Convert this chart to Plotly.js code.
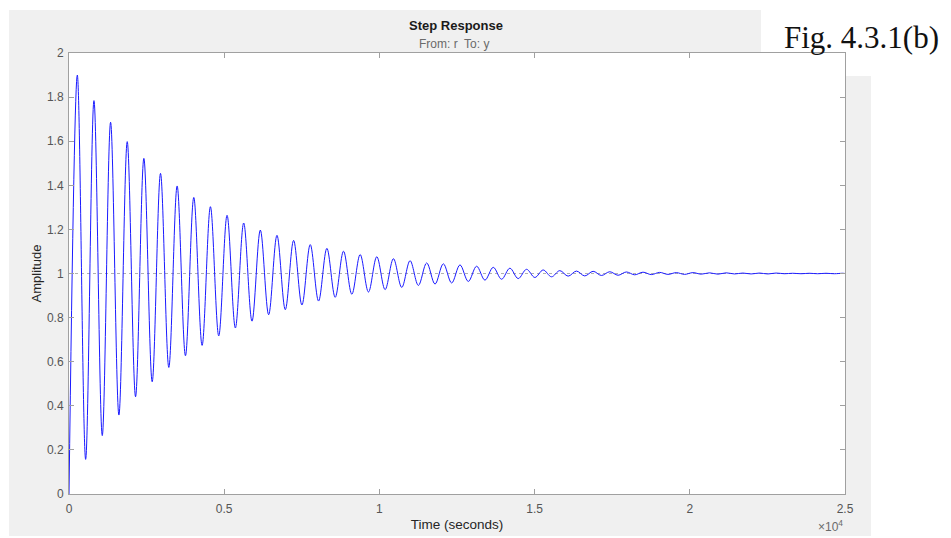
<!DOCTYPE html>
<html>
<head>
<meta charset="utf-8">
<script src="https://cdn.plot.ly/plotly-3.0.1.min.js"></script>
<style>html,body{margin:0;padding:0;background:#fff;}#chart{width:951px;height:538px;}</style>
</head>
<body>
<div id="chart"></div>
<script>
// Times (s) of the response's start, successive peaks/troughs, and end
const timeSec = [0,
 268, 536, 804, 1072, 1340, 1608, 1876, 2144, 2412, 2680,
 2948, 3216, 3484, 3752, 4020, 4288, 4556, 4824, 5092, 5360,
 5628, 5896, 6164, 6432, 6700, 6968, 7236, 7504, 7772, 8040,
 8308, 8576, 8844, 9112, 9380, 9648, 9916, 10184, 10452, 10720,
 10988, 11256, 11524, 11792, 12060, 12328, 12596, 12864, 13132, 13400,
 13668, 13936, 14204, 14472, 14740, 15008, 15276, 15544, 15812, 16080,
 16348, 16616, 16884, 17152, 17420, 17688, 17956, 18224, 18492, 18760,
 19028, 19296, 19564, 19832, 20100, 20368, 20636, 20904, 21172, 21440,
 21708, 21976, 22244, 22512, 22780, 23048, 23316, 23584, 23852, 24120,
 24388, 24656, 24924, 25000];
// Amplitude at those times
const amplitude = [0,
 1.900, 0.157, 1.784, 0.265, 1.686, 0.358, 1.598, 0.441, 1.522, 0.509,
 1.454, 0.574, 1.397, 0.627, 1.345, 0.674, 1.303, 0.717, 1.264, 0.753,
 1.229, 0.784, 1.197, 0.813, 1.173, 0.836, 1.150, 0.857, 1.131, 0.875,
 1.114, 0.892, 1.101, 0.906, 1.086, 0.916, 1.076, 0.927, 1.067, 0.937,
 1.058, 0.946, 1.048, 0.952, 1.044, 0.957, 1.039, 0.964, 1.033, 0.970,
 1.028, 0.974, 1.024, 0.977, 1.019, 0.982, 1.016, 0.985, 1.013, 0.988,
 1.011, 0.989, 1.010, 0.991, 1.008, 0.992, 1.007, 0.994, 1.006, 0.995,
 1.005, 0.996, 1.004, 0.996, 1.004, 0.997, 1.003, 0.997, 1.003, 0.998,
 1.002, 0.998, 1.002, 0.998, 1.002, 0.999, 1.001, 0.999, 1.001, 0.999,
 1.001, 0.999, 1.001, 1.000];
const steadyState = [1];
const xTickVals = [0, 5000, 10000, 15000, 20000, 25000];
const xTickText = ['0', '0.5', '1', '1.5', '2', '2.5'];
const yTickVals = [0, 0.2, 0.4, 0.6, 0.8, 1, 1.2, 1.4, 1.6, 1.8, 2];
const yTickText = ['0', '0.2', '0.4', '0.6', '0.8', '1', '1.2', '1.4', '1.6', '1.8', '2'];

const FONT = 'Liberation Sans, Arial, Helvetica, sans-serif';
const W = 951, H = 538, L = 69, R = 106, T = 53, B = 44;
const pw = W - L - R, ph = H - T - B;
const px = v => (v - L) / pw;          // pixel x -> paper x
const py = v => (H - B - v) / ph;      // pixel y -> paper y

const trace = {
  x: timeSec, y: amplitude, type: 'scatter', mode: 'lines',
  line: {color: '#1a1aff', width: 1, shape: 'spline', smoothing: 1},
  hoverinfo: 'x+y', showlegend: false
};

const axisCommon = {
  showgrid: false, zeroline: false, showline: true, linecolor: '#a0a0a0', linewidth: 1,
  mirror: 'ticks', ticks: 'inside', ticklen: 5, tickcolor: '#a0a0a0',
  tickfont: {family: FONT, size: 12, color: '#555555'}
};

const layout = {
  width: W, height: H,
  margin: {l: L, r: R, t: T, b: B},
  paper_bgcolor: '#ffffff', plot_bgcolor: '#ffffff',
  xaxis: Object.assign({}, axisCommon, {
    range: [0, 25000], tickmode: 'array', tickvals: xTickVals, ticktext: xTickText,
    ticklabelstandoff: 4,
    title: {text: 'Time (seconds)', font: {family: FONT, size: 13.5, color: '#262626'}, standoff: 4}
  }),
  yaxis: Object.assign({}, axisCommon, {
    range: [0, 2], tickmode: 'array', tickvals: yTickVals, ticktext: yTickText,
    ticklabelstandoff: 2,
    title: {text: 'Amplitude', font: {family: FONT, size: 13, color: '#262626'}, standoff: 2}
  }),
  shapes: [
    {type: 'rect', xref: 'paper', yref: 'paper', x0: px(9), x1: px(871), y0: py(536), y1: py(10),
     fillcolor: '#f0f0f0', line: {width: 0}, layer: 'below'},
    {type: 'rect', xref: 'paper', yref: 'paper', x0: 0, x1: 1, y0: 0, y1: 1,
     fillcolor: '#ffffff', line: {width: 0}, layer: 'below'},
    {type: 'rect', xref: 'paper', yref: 'paper', x0: px(761), x1: px(951), y0: py(76), y1: py(0),
     fillcolor: '#ffffff', line: {width: 0}, layer: 'below'},
    {type: 'line', xref: 'paper', yref: 'y', x0: 0, x1: 1, y0: steadyState[0], y1: steadyState[0],
     line: {color: '#b0b0b0', width: 1, dash: 'dot'}, layer: 'below'}
  ],
  annotations: [
    {text: '<b>Step Response</b>', xref: 'paper', yref: 'paper', x: px(456), y: py(26),
     showarrow: false, font: {family: FONT, size: 13, color: '#1a1a1a'}, xanchor: 'center', yanchor: 'middle'},
    {text: 'From: r  To: y', xref: 'paper', yref: 'paper', x: px(454), y: py(44),
     showarrow: false, font: {family: FONT, size: 12, color: '#6a6a6a'}, xanchor: 'center', yanchor: 'middle'},
    {text: '×10<sup>4</sup>', xref: 'paper', yref: 'paper', x: px(845), y: py(526),
     showarrow: false, font: {family: FONT, size: 12, color: '#6a6a6a'}, xanchor: 'right', yanchor: 'middle'},
    {text: 'Fig. 4.3.1(b)', xref: 'paper', yref: 'paper', x: px(941), y: py(38),
     showarrow: false, font: {family: 'Liberation Serif, Times New Roman, serif', size: 31, color: '#111111'},
     xanchor: 'right', yanchor: 'middle'}
  ]
};

Plotly.newPlot('chart', [trace], layout, {displayModeBar: false, staticPlot: true});
</script>
</body>
</html>
